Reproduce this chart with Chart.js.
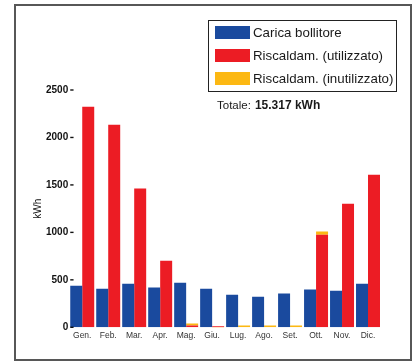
<!DOCTYPE html>
<html lang="it">
<head>
<meta charset="utf-8">
<title>Consumo energetico mensile</title>
<script src="https://cdn.jsdelivr.net/npm/chart.js@4/dist/chart.umd.min.js"></script>
<style>
  html, body { margin: 0; padding: 0; background: #fff; }
  body { width: 414px; height: 361px; position: relative; overflow: hidden;
         font-family: 'Liberation Sans', Arial, Helvetica, sans-serif; }
  #frame { position: absolute; left: 14px; top: 4px; width: 398px; height: 357px;
           box-sizing: border-box; border: 2px solid #575757; }
  #chart { position: absolute; left: 0; top: 0; }
  #legend { position: absolute; left: 208px; top: 20px; width: 189px; height: 72px;
            box-sizing: border-box; border: 1px solid #222; background: #fff; }
  #legend ul { list-style: none; margin: 0; padding: 0; }
  #legend li { position: absolute; left: 6px; height: 15px; display: flex; align-items: center;
               font-size: 13.3px; color: #1a1a1a; white-space: nowrap; }
  #legend .sw { width: 35px; height: 13px; margin-right: 3px; flex: none; }
  #total { position: absolute; left: 217px; top: 95px; color: #1a1a1a; white-space: nowrap; }
  #total .lbl { font-size: 11.5px; }
  #total .val { font-size: 12px; font-weight: bold; margin-left: 4px; }
</style>
</head>
<body>
<div id="frame"></div>
<canvas id="chart" width="414" height="361"></canvas>
<div id="legend"></div>
<div id="total"><span class="lbl">Totale:</span><span class="val" id="totalValue"></span></div>
<script>
// Monthly energy (kWh)
const months = ['Gen.', 'Feb.', 'Mar.', 'Apr.', 'Mag.', 'Giu.', 'Lug.', 'Ago.', 'Set.', 'Ott.', 'Nov.', 'Dic.'];
const caricaBollitore = [439, 407, 460, 418, 470, 407, 344, 323, 355, 397, 386, 460];
const riscaldUtilizzato = [2324, 2134, 1461, 702, 18, 10, 0, 0, 0, 976, 1302, 1608];
const riscaldInutilizzato = [0, 0, 0, 0, 22, -10, 18, 18, 18, 32, 0, 0];
const yTicks = [0, 500, 1000, 1500, 2000, 2500];
const totale = '15.317 kWh';

const seriesLabels = ['Carica bollitore', 'Riscaldam. (utilizzato)', 'Riscaldam. (inutilizzato)'];
const seriesColors = ['#1a4a9e', '#ec1c24', '#fcb813'];

document.getElementById('totalValue').textContent = totale;

// Renders the legend as HTML list items built from the chart's own legend labels
const htmlLegend = {
  id: 'htmlLegend',
  afterUpdate(chart) {
    const box = document.getElementById('legend');
    box.innerHTML = '';
    const ul = document.createElement('ul');
    const items = chart.options.plugins.legend.labels.generateLabels(chart);
    items.forEach((item, i) => {
      const li = document.createElement('li');
      li.style.top = (4 + i * 23) + 'px';
      const sw = document.createElement('span');
      sw.className = 'sw';
      sw.style.background = item.fillStyle;
      const txt = document.createElement('span');
      txt.textContent = item.text;
      li.appendChild(sw);
      li.appendChild(txt);
      ul.appendChild(li);
    });
    box.appendChild(ul);
  }
};

// Short tick dashes just inside the plot edge, drawn on top of the bars
const tickDashes = {
  id: 'tickDashes',
  afterDatasetsDraw(chart) {
    const yScale = chart.scales.y;
    const { ctx, chartArea } = chart;
    ctx.save();
    ctx.fillStyle = '#111';
    yScale.ticks.forEach(t => {
      const py = yScale.getPixelForValue(t.value);
      ctx.fillRect(chartArea.left + 1, py - 0.7, 3.3, 1.4);
    });
    ctx.restore();
  }
};

const fontFamily = "'Liberation Sans', Arial, Helvetica, sans-serif";

new Chart(document.getElementById('chart'), {
  type: 'bar',
  data: {
    labels: months,
    datasets: [
      { label: seriesLabels[0], data: caricaBollitore, backgroundColor: seriesColors[0], stack: 'boiler' },
      { label: seriesLabels[1], data: riscaldUtilizzato, backgroundColor: seriesColors[1], stack: 'heating' },
      { label: seriesLabels[2], data: riscaldInutilizzato, backgroundColor: seriesColors[2], stack: 'heating' }
    ]
  },
  options: {
    responsive: false,
    animation: false,
    categoryPercentage: 0.923,
    barPercentage: 1.0,
    layout: { padding: { top: 90, right: 33, bottom: 17.5, left: 29 } },
    plugins: {
      legend: { display: false },
      tooltip: { enabled: false }
    },
    scales: {
      x: {
        stacked: true,
        grid: { display: false, drawTicks: false },
        border: { display: false },
        ticks: {
          color: '#333',
          font: { family: fontFamily, size: 8.5 },
          padding: 3,
          maxRotation: 0,
          autoSkip: false
        }
      },
      y: {
        stacked: true,
        min: yTicks[0],
        max: yTicks[yTicks.length - 1],
        afterBuildTicks(scale) { scale.ticks = yTicks.map(v => ({ value: v })); },
        grid: { display: false, drawTicks: false },
        border: { display: false },
        ticks: {
          color: '#111',
          font: { family: fontFamily, size: 10, weight: 'bold' },
          padding: 1,
          callback: v => String(v)
        },
        title: {
          display: true,
          text: 'kWh',
          color: '#111',
          font: { family: fontFamily, size: 10 },
          padding: { top: 3, bottom: 1 }
        }
      }
    }
  },
  plugins: [htmlLegend, tickDashes]
});
</script>
</body>
</html>
